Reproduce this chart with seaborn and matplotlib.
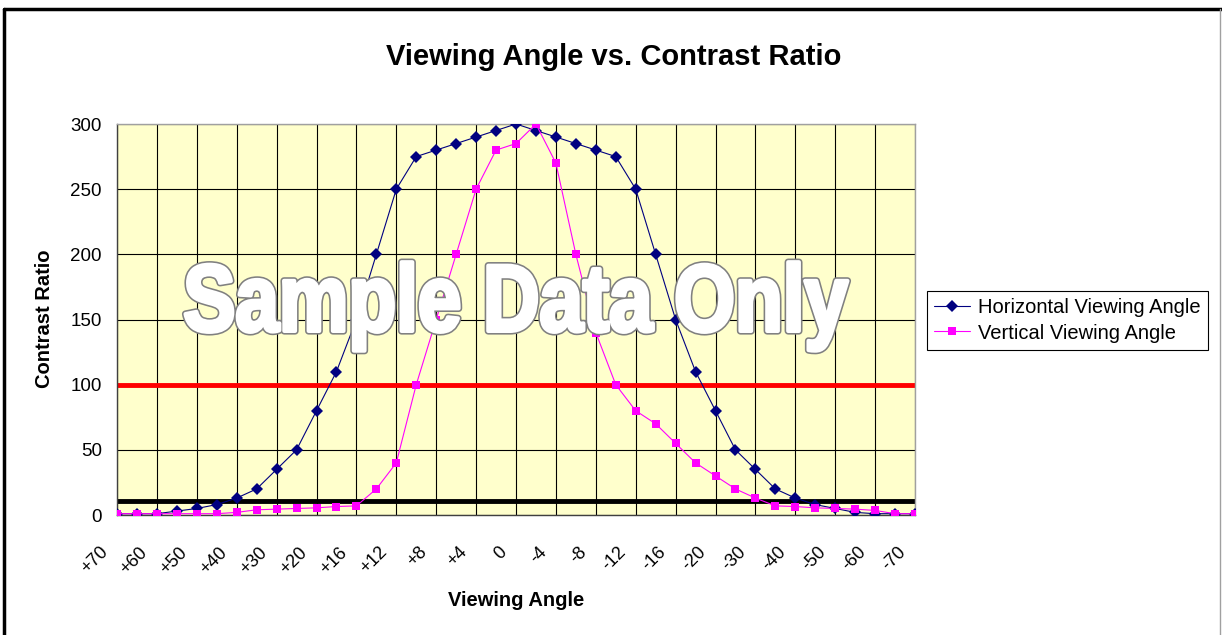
import pandas as pd
import matplotlib.pyplot as plt
from matplotlib.lines import Line2D
from matplotlib.patches import PathPatch
from matplotlib.textpath import TextPath
from matplotlib.font_manager import FontProperties
from matplotlib.transforms import Affine2D, ScaledTranslation
import seaborn as sns


# =========================
# 1. DATOS
# =========================
angles = [
    "+70", "+65", "+60", "+55", "+50", "+45", "+40", "+35", "+30", "+25", "+20",
    "+18", "+16", "+14", "+12", "+10", "+8", "+6", "+4", "+2", "0",
    "-2", "-4", "-6", "-8", "-10", "-12", "-14", "-16", "-18", "-20",
    "-25", "-30", "-35", "-40", "-45", "-50", "-55", "-60", "-65", "-70",
]

horizontal = [
    1, 1, 1, 3, 5, 8, 13, 20, 35, 50, 80,
    110, 150, 200, 250, 275, 280, 285, 290, 295, 300,
    295, 290, 285, 280, 275, 250, 200, 150, 110, 80,
    50, 35, 20, 13, 8, 5, 2, 1, 1, 1,
]

vertical = [
    1, 1, 1, 1, 1, 1, 2, 4, 4.5, 5, 5.5,
    6.5, 7, 20, 40, 100, 150, 200, 250, 280, 285,
    300, 270, 200, 140, 100, 80, 70, 55, 40, 30,
    20, 13, 7, 6.5, 5.5, 5, 4.5, 3.5, 1, 1,
]

series_names = ["Horizontal Viewing Angle", "Vertical Viewing Angle"]
target_ratio = 100   # linea roja
minimum_ratio = 11   # linea negra

df = pd.DataFrame({
    "pos": list(range(len(angles))) * 2,
    "angle": angles * 2,
    "ratio": horizontal + vertical,
    "series": [series_names[0]] * len(angles) + [series_names[1]] * len(angles),
})

# =========================
# 2. ESTILO
# =========================
sns.set_style("white")
plt.rcParams["font.family"] = ["Liberation Sans", "DejaVu Sans"]
plt.rcParams["text.color"] = "black"
plt.rcParams["axes.labelcolor"] = "black"
plt.rcParams["xtick.color"] = "black"
plt.rcParams["ytick.color"] = "black"

fig = plt.figure(figsize=(12.22, 6.35), dpi=100)
fig.patch.set_facecolor("white")
ax = fig.add_axes([117 / 1222, 1 - 515 / 635, (915 - 117) / 1222, (515 - 124) / 635])
ax.set_facecolor("#FFFFCC")

# =========================
# 3. GRAFICO
# =========================
ax.axhline(target_ratio, color="#FF0000", linewidth=3.5, zorder=2)
ax.axhline(minimum_ratio, color="black", linewidth=3.5, zorder=2)

sns.lineplot(
    data=df, x="pos", y="ratio",
    hue="series", style="series",
    palette={series_names[0]: "#000080", series_names[1]: "#FF00FF"},
    markers={series_names[0]: "D", series_names[1]: "s"},
    dashes=False,
    linewidth=0.8,
    markersize=5.8,
    markeredgewidth=0,
    ax=ax,
    zorder=3,
)

# ejes
ax.set_xlim(0, len(angles) - 1)
ax.set_ylim(0, 300)
ax.set_yticks(range(0, 301, 50))
ax.set_xticks(range(0, len(angles), 2))
ax.set_xticklabels(angles[::2], rotation=45, ha="right", rotation_mode="anchor")
ax.tick_params(axis="both", direction="out", length=4, width=0.8, color="#404040",
               labelsize=13.5, pad=7)
ax.tick_params(axis="x", labelsize=13, pad=8)
# bajar las etiquetas rotadas como en Excel
shift = ScaledTranslation(-18 / 100, -12 / 100, fig.dpi_scale_trans)
for lbl in ax.get_xticklabels():
    lbl.set_transform(lbl.get_transform() + shift)
ax.grid(True, color="black", linewidth=0.8)
ax.set_axisbelow(True)
ax.set_xlabel("")
ax.set_ylabel("")
for side in ["left", "bottom"]:
    ax.spines[side].set_color("#404040")
    ax.spines[side].set_linewidth(1)
for side in ["top", "right"]:
    ax.spines[side].set_color("#A0A0A0")
    ax.spines[side].set_linewidth(1)

# leyenda
handles, labels = ax.get_legend_handles_labels()
keep = [i for i, l in enumerate(labels) if l in series_names]
ax.legend(
    [handles[i] for i in keep], [labels[i] for i in keep],
    loc="center left", bbox_to_anchor=(927 / 1222, 1 - 320.5 / 635),
    bbox_transform=fig.transFigure, borderaxespad=0,
    frameon=True, fancybox=False, framealpha=1, edgecolor="black",
    fontsize=14.5, handlelength=1.8, handletextpad=0.4,
    borderpad=0.35, labelspacing=0.3,
)
ax.get_legend().get_frame().set_linewidth(0.8)

# marca de agua (letra estrecha y gruesa, tipo Arial Narrow)
wm = TextPath((0, 0), "Sample Data Only", size=1,
              prop=FontProperties(family="Liberation Sans", weight="bold"))
ext = wm.get_extents()
wm_width = 662 / 100        # pulgadas
wm_em = 95 / 100            # pulgadas
wm_center = 516.5 / 100
wm_base = (635 - 331) / 100
sx = wm_width / ext.width
wm_tr = (Affine2D().translate(-ext.x0 - ext.width / 2, 0).scale(sx, wm_em)
         .translate(wm_center, wm_base) + fig.dpi_scale_trans)
# contorno gris y relleno blanco engrosado
fig.add_artist(PathPatch(wm, transform=wm_tr, facecolor="white", edgecolor="#808080",
                         linewidth=5.2, joinstyle="round", zorder=5))
fig.add_artist(PathPatch(wm, transform=wm_tr, facecolor="white", edgecolor="white",
                         linewidth=2.9, joinstyle="round", zorder=5.1))

# textos
fig.text(614 / 1222, 1 - 57 / 635, "Viewing Angle vs. Contrast Ratio",
         ha="center", va="center", fontsize=21, fontweight="bold")
fig.text(516 / 1222, 1 - 600 / 635, "Viewing Angle",
         ha="center", va="center", fontsize=14.5, fontweight="bold")
fig.text(45 / 1222, 1 - 319 / 635, "Contrast Ratio", rotation=90,
         ha="center", va="center", fontsize=14.5, fontweight="bold")

# marco del grafico
fig.add_artist(Line2D([4 / 1222, 4 / 1222], [0, 1 - 9 / 635], color="black", linewidth=2.5))
fig.add_artist(Line2D([4 / 1222, 1], [1 - 9 / 635, 1 - 9 / 635], color="black", linewidth=2.5))
fig.add_artist(Line2D([1220 / 1222, 1220 / 1222], [0, 1 - 9 / 635], color="#A0A0A0", linewidth=1))

fig.savefig("out.png", dpi=100)
